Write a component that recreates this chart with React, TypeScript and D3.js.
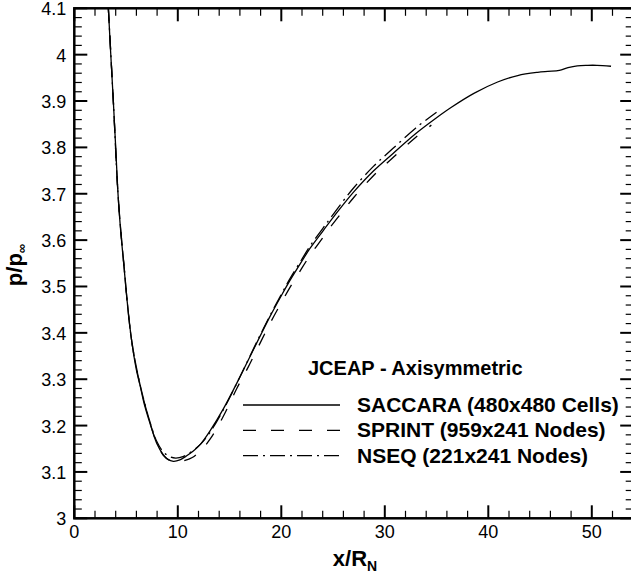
import React from "react";
import * as d3 from "d3";

const xTicks = [0, 10, 20, 30, 40, 50];
const yTicks = [3, 3.1, 3.2, 3.3, 3.4, 3.5, 3.6, 3.7, 3.8, 3.9, 4, 4.1];

const saccaraX = [3.29, 3.5, 3.77, 4.0, 4.25, 4.5, 4.8, 5.1, 5.51, 6.0, 6.36, 6.8, 7.31, 7.96, 8.6, 9.0, 9.57, 10.2, 10.8, 11.5, 12.2, 13.1, 14.4, 15.85, 16.8, 18.0, 18.9, 20.0, 20.84, 22.0, 22.77, 24.0, 24.7, 26.0, 27.0, 28.9, 30.8, 33.0, 35.0, 36.4, 38.65, 40.9, 42.84, 44.77, 45.74, 46.86, 47.7, 48.6, 49.6, 50.5, 51.86];
const saccaraY = [4.1, 4.01, 3.9, 3.8, 3.69, 3.615, 3.543, 3.47, 3.388, 3.32, 3.286, 3.243, 3.205, 3.162, 3.137, 3.128, 3.123, 3.126, 3.134, 3.145, 3.16, 3.188, 3.236, 3.298, 3.341, 3.395, 3.435, 3.48, 3.513, 3.555, 3.582, 3.619, 3.64, 3.677, 3.704, 3.749, 3.787, 3.83, 3.864, 3.886, 3.917, 3.941, 3.955, 3.962, 3.964, 3.966, 3.972, 3.976, 3.977, 3.977, 3.975];

const sprintX = [3.29, 3.77, 4.25, 4.8, 5.51, 6.36, 7.31, 7.96, 8.6, 9.2, 9.9, 10.6, 11.4, 12.2, 13.1, 14.4, 15.7, 16.8, 18.0, 18.9, 20.0, 20.84, 22.0, 22.77, 24.0, 24.7, 26.0, 27.0, 28.9, 30.8, 33.0, 34.5];
const sprintY = [4.1, 3.9, 3.69, 3.545, 3.388, 3.287, 3.207, 3.163, 3.136, 3.125, 3.121, 3.124, 3.131, 3.146, 3.17, 3.22, 3.28, 3.326, 3.38, 3.42, 3.465, 3.498, 3.54, 3.567, 3.605, 3.627, 3.664, 3.692, 3.739, 3.778, 3.822, 3.848];

const nseqX = [3.29, 3.77, 4.25, 4.8, 5.51, 6.36, 7.31, 7.96, 8.6, 9.2, 9.8, 10.5, 11.2, 12.2, 13.1, 14.4, 15.85, 16.8, 18.0, 18.9, 20.0, 20.84, 22.0, 22.77, 24.0, 24.7, 26.0, 27.0, 28.9, 30.8, 33.0, 35.0];
const nseqY = [4.1, 3.9, 3.69, 3.545, 3.388, 3.288, 3.208, 3.166, 3.143, 3.133, 3.13, 3.133, 3.142, 3.16, 3.185, 3.234, 3.298, 3.342, 3.397, 3.437, 3.483, 3.517, 3.559, 3.587, 3.625, 3.646, 3.685, 3.713, 3.759, 3.798, 3.842, 3.876];

const legendTitle = "JCEAP - Axisymmetric";
const seriesNames = ["SACCARA (480x480 Cells)", "SPRINT (959x241 Nodes)", "NSEQ (221x241 Nodes)"];
const seriesDash = ["none", "13,15", "15,5,2,5"];

const FONT = "'Liberation Sans', Arial, Helvetica, sans-serif";

export default function App() {
  const W = 631, H = 577;
  const L = 74.3, T = 8.3, B = 518.3;
  const x = d3.scaleLinear().domain([0, 54]).range([L, L + 54 * 10.35]);
  const y = d3.scaleLinear().domain([3, 4.1]).range([B, T]);
  const R = x(54);

  const line = d3.line<[number, number]>().x(d => x(d[0])).y(d => y(d[1])).curve(d3.curveCatmullRom.alpha(0.5));
  const series = [
    saccaraX.map((v, i) => [v, saccaraY[i]] as [number, number]),
    sprintX.map((v, i) => [v, sprintY[i]] as [number, number]),
    nseqX.map((v, i) => [v, nseqY[i]] as [number, number]),
  ];

  const xMinor = d3.range(0, 54.001, 2).filter(v => v % 10 !== 0);
  const yMinor = d3.range(3, 4.1001, 0.02).filter(v => Math.abs(v * 10 - Math.round(v * 10)) > 0.01);

  const MAJ = 13, MIN = 7.5;

  return (
    <div style={{ position: "fixed", left: 0, top: 0 }}>
      <svg width={W} height={H} style={{ display: "block", background: "#fff" }}>
        <defs>
          <clipPath id="plotClip">
            <rect x={L} y={T} width={R - L} height={B - T} />
          </clipPath>
        </defs>
        <g clipPath="url(#plotClip)">
          {series.map((s, i) => (
            <path key={i} d={line(s) || ""} fill="none" stroke="#000" strokeWidth={1.3}
              strokeDasharray={seriesDash[i] === "none" ? undefined : seriesDash[i]} />
          ))}
        </g>
        <g stroke="#000">
          {xTicks.map(v => (
            <g key={"xt" + v}>
              <line x1={x(v)} x2={x(v)} y1={B} y2={B - MAJ} strokeWidth={2} />
              <line x1={x(v)} x2={x(v)} y1={T} y2={T + MAJ} strokeWidth={2} />
            </g>
          ))}
          {xMinor.map(v => (
            <g key={"xm" + v}>
              <line x1={x(v)} x2={x(v)} y1={B} y2={B - MIN} strokeWidth={1.2} />
              <line x1={x(v)} x2={x(v)} y1={T} y2={T + MIN} strokeWidth={1.2} />
            </g>
          ))}
          {yTicks.map(v => (
            <g key={"yt" + v}>
              <line x1={L} x2={L + MAJ} y1={y(v)} y2={y(v)} strokeWidth={2} />
              <line x1={R} x2={R - MAJ} y1={y(v)} y2={y(v)} strokeWidth={2} />
            </g>
          ))}
          {yMinor.map((v, i) => (
            <g key={"ym" + i}>
              <line x1={L} x2={L + MIN} y1={y(v)} y2={y(v)} strokeWidth={1.2} />
              <line x1={R} x2={R - MIN} y1={y(v)} y2={y(v)} strokeWidth={1.2} />
            </g>
          ))}
        </g>
        <rect x={L} y={T} width={R - L} height={B - T} fill="none" stroke="#000" strokeWidth={2.5} />
        <g fontFamily={FONT} fontSize={18} fill="#000">
          {xTicks.map(v => (
            <text key={"xl" + v} x={x(v)} y={B + 20} textAnchor="middle">{String(v)}</text>
          ))}
          {yTicks.map(v => (
            <text key={"yl" + v} x={L - 8} y={y(v) + 7} textAnchor="end">{String(+v.toFixed(1))}</text>
          ))}
        </g>
        <text x={355} y={566} textAnchor="middle" fontFamily={FONT} fontWeight="bold" fontSize={22}>
          x/R<tspan fontSize={14} dy={5}>N</tspan>
        </text>
        <text transform={`translate(22,265) rotate(-90)`} textAnchor="middle" fontFamily={FONT} fontWeight="bold" fontSize={22}>
          p/p<tspan fontSize={13} dy={4}>∞</tspan>
        </text>
        <text x={308} y={375} fontFamily={FONT} fontWeight="bold" fontSize={20}>{legendTitle}</text>
        {seriesNames.map((n, i) => {
          const by = 412 + i * 25.3;
          return (
            <g key={"lg" + i}>
              <line x1={243} x2={340} y1={by - 7} y2={by - 7} stroke="#000" strokeWidth={1.3}
                strokeDasharray={seriesDash[i] === "none" ? undefined : seriesDash[i]} />
              <text x={357} y={by} fontFamily={FONT} fontWeight="bold" fontSize={21}>{n}</text>
            </g>
          );
        })}
      </svg>
    </div>
  );
}
